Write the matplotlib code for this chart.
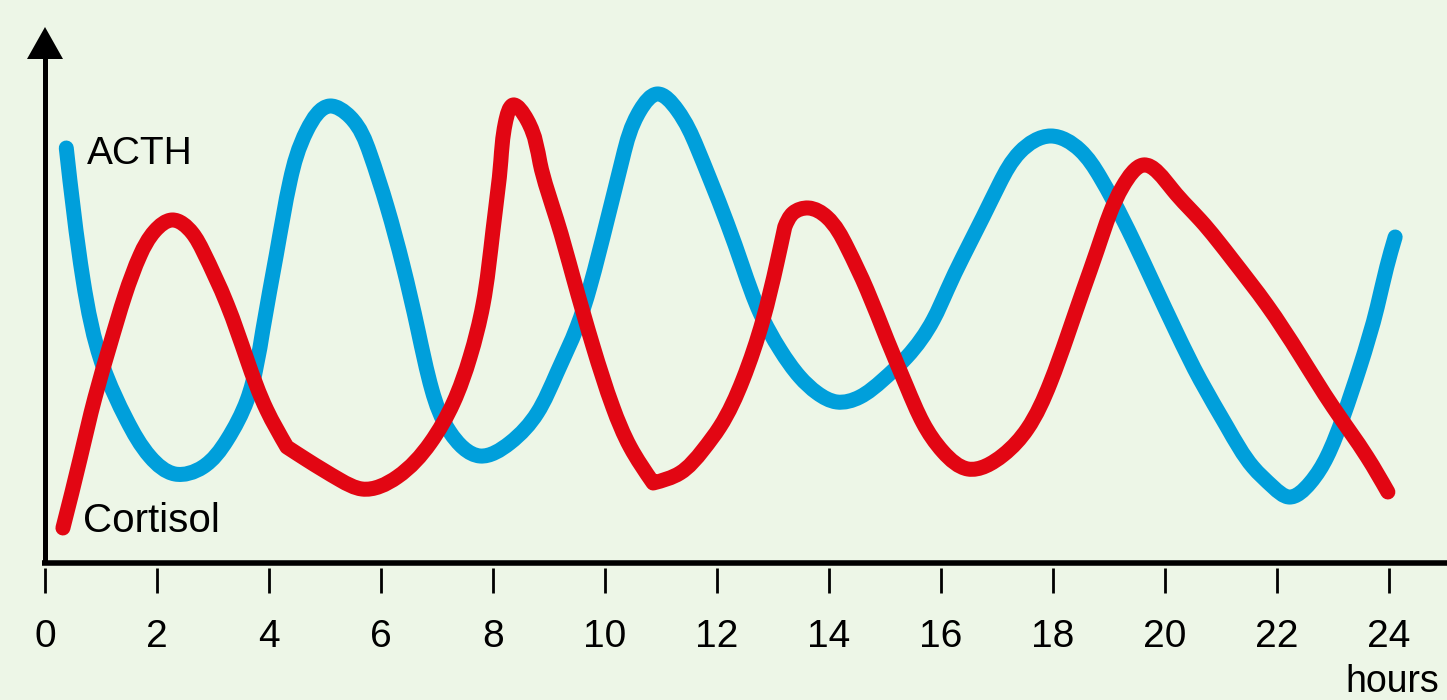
import matplotlib
matplotlib.use("Agg")
import math
import matplotlib.pyplot as plt
from matplotlib.patches import Polygon, PathPatch
from matplotlib.path import Path

# ---- data (hours, arbitrary level units) ----
acth_h = [0.38, 0.68, 1.04, 1.46, 1.88, 2.32, 2.82, 3.25, 3.61, 3.89, 4.13,
          4.38, 4.68, 5.09, 5.45, 5.80, 6.11, 6.39, 6.66, 6.91, 7.23, 7.77, 8.30,
          8.79, 9.14, 9.5, 9.73, 10.04, 10.32, 10.63, 10.93, 11.29, 11.64, 11.88, 12.18,
          12.46, 12.77, 13.13, 13.48, 13.79, 14.14, 14.55, 14.96, 15.39, 15.86, 16.11,
          16.39, 16.75, 17.05, 17.41, 17.96, 18.48, 18.84, 19.07, 19.43, 19.79, 20.21,
          20.63, 21.11, 21.57, 21.93, 22.21, 22.59, 22.89, 23.18, 23.48, 23.79, 23.96,
          24.11]
acth_v = [83.0, 56.6, 39.2, 28.6, 21.2, 17.8, 19.2, 24.6, 32.6, 46.6, 61.6,
          76.6, 86.6, 91.4, 89.2, 82.0, 71.2, 59.6, 46.6, 34.6, 26.2, 21.4, 24.0,
          30.0, 38.0, 47.2, 55.2, 68.6, 81.2, 90.6, 93.8, 90.6, 83.2, 76.6, 68.0,
          59.2, 50.0, 42.6, 37.2, 34.0, 32.2, 33.2, 36.6, 41.2, 48.6, 54.6,
          61.2, 69.2, 76.0, 82.2, 85.4, 82.6, 77.2, 72.6, 64.6, 56.0, 46.0,
          36.6, 27.2, 19.2, 15.2, 13.2, 16.0, 21.2, 29.2, 39.2, 51.2, 59.2,
          65.2]

cort_h = [0.32, 0.63, 0.89, 1.16, 1.43, 1.70, 1.96, 2.27, 2.63, 2.82, 3.25, 3.61, 3.96,
          4.32, 4.68, 5.27, 5.66, 6.29, 6.88, 7.29, 7.59, 7.82, 8.0, 8.14, 8.22, 8.36,
          8.61, 8.84, 9.14, 9.43, 9.79, 10.14, 10.45, 10.86, 11.34, 11.75, 12.05, 12.46,
          12.82, 13.07, 13.21, 13.36, 13.63, 13.96, 14.32, 14.68, 15.04, 15.39, 15.68,
          16.04, 16.48, 17.11, 17.54, 17.95, 18.25, 18.54, 18.79, 19.02, 19.25, 19.61,
          20.14, 20.63, 21.21, 21.82, 22.41, 23.0, 23.61, 23.98]
cort_v = [7.0, 21.0, 33.0, 43.6, 53.6, 61.6, 66.4, 68.6, 66.0, 62.4, 51.8, 40.6, 30.6,
          23.2, 20.6, 16.6, 14.8, 17.2, 24.0, 32.0, 41.2, 51.6, 66.6, 80.4, 88.0, 91.6,
          88.6, 80.0, 68.6, 57.2, 43.2, 31.2, 23.2, 16.0, 18.0, 22.6, 27.2, 36.6,
          48.6, 60.0, 67.2, 70.0, 71.0, 69.2, 63.2, 54.6, 44.6, 35.2, 28.0,
          22.2, 18.8, 21.6, 26.8, 36.0, 45.2, 54.6, 62.6, 70.0, 75.4, 79.6,
          74.6, 68.6, 60.6, 51.6, 41.6, 31.2, 21.2, 14.2]
# hours at which the cortisol trace has a visible corner
cort_corners = [4.32, 10.86, 13.21]

tick_hours = list(range(0, 25, 2))
tick_labels = [str(t) for t in tick_hours]

BG = "#EDF6E7"
BLUE = "#009FDB"
RED = "#E20613"
FONT = ["Liberation Sans", "DejaVu Sans"]

# on-screen scale (pixels per unit), used for the chord-length parameterisation
SX, SY = 56.0, 5.0


def _second_derivs(t, y):
    n = len(t)
    h = [t[i + 1] - t[i] for i in range(n - 1)]
    a = [0.0] * n
    b = [1.0] * n
    c = [0.0] * n
    d = [0.0] * n
    for i in range(1, n - 1):
        a[i] = h[i - 1]
        b[i] = 2 * (h[i - 1] + h[i])
        c[i] = h[i]
        d[i] = 6 * ((y[i + 1] - y[i]) / h[i] - (y[i] - y[i - 1]) / h[i - 1])
    cp = [0.0] * n
    dp = [0.0] * n
    cp[0] = c[0] / b[0]
    dp[0] = d[0] / b[0]
    for i in range(1, n):
        m = b[i] - a[i] * cp[i - 1]
        cp[i] = c[i] / m
        dp[i] = (d[i] - a[i] * dp[i - 1]) / m
    M = [0.0] * n
    M[-1] = dp[-1]
    for i in range(n - 2, -1, -1):
        M[i] = dp[i] - cp[i] * M[i + 1]
    return M


def spline_piece(xs, ys):
    """Bezier control points of a parametric natural cubic spline through points."""
    n = len(xs)
    t = [0.0]
    for i in range(1, n):
        t.append(t[-1] + max(math.hypot((xs[i] - xs[i - 1]) * SX,
                                        (ys[i] - ys[i - 1]) * SY), 1e-6))
    Mx = _second_derivs(t, xs)
    My = _second_derivs(t, ys)
    verts = []
    for i in range(n - 1):
        h = t[i + 1] - t[i]
        d0x = (xs[i + 1] - xs[i]) / h - h * (2 * Mx[i] + Mx[i + 1]) / 6
        d1x = (xs[i + 1] - xs[i]) / h + h * (Mx[i] + 2 * Mx[i + 1]) / 6
        d0y = (ys[i + 1] - ys[i]) / h - h * (2 * My[i] + My[i + 1]) / 6
        d1y = (ys[i + 1] - ys[i]) / h + h * (My[i] + 2 * My[i + 1]) / 6
        verts += [(xs[i] + d0x * h / 3, ys[i] + d0y * h / 3),
                  (xs[i + 1] - d1x * h / 3, ys[i + 1] - d1y * h / 3),
                  (xs[i + 1], ys[i + 1])]
    return verts


def smooth_path(xs, ys, corners=()):
    idx = [0] + [xs.index(c) for c in corners] + [len(xs) - 1]
    verts = [(xs[0], ys[0])]
    codes = [Path.MOVETO]
    for a, b in zip(idx[:-1], idx[1:]):
        v = spline_piece(xs[a:b + 1], ys[a:b + 1])
        verts += v
        codes += [Path.CURVE4] * len(v)
    return Path(verts, codes)


fig = plt.figure(figsize=(14.47, 7.00), dpi=100, facecolor=BG)
ax = fig.add_axes([0, 0, 1, 1])
ax.set_facecolor(BG)
ax.set_xlim(-45 / 56, 1402 / 56)
ax.set_ylim(-27.4, 112.6)
ax.axis("off")

# curves
for xs, ys, cr, col, z, lab in [(acth_h, acth_v, (), BLUE, 3, "ACTH"),
                                (cort_h, cort_v, cort_corners, RED, 4, "Cortisol")]:
    patch = PathPatch(smooth_path(xs, ys, cr), facecolor="none", edgecolor=col, lw=10.8,
                      capstyle="round", joinstyle="round", zorder=z, label=lab)
    ax.add_patch(patch)

# axes lines with arrows
ax.plot([-3 / 56, 1434 / 56], [0, 0], color="black", lw=4.0, solid_capstyle="butt", zorder=5)
ax.plot([0, 0], [0, 101], color="black", lw=3.6, solid_capstyle="butt", zorder=5)
ax.add_patch(Polygon([(-18 / 56, 100.8), (18 / 56, 100.8), (0, 107.2)], closed=True,
                     color="black", zorder=6, lw=0))
ax.add_patch(Polygon([(1432 / 56, 3.9), (1432 / 56, -3.9), (1468 / 56, 0)], closed=True,
                     color="black", zorder=6, lw=0, clip_on=False))

# ticks & labels
for tk, lab in zip(tick_hours, tick_labels):
    ax.plot([tk, tk], [-1.0, -6.0], color="black", lw=2.0, solid_capstyle="butt")
    ax.text(tk, -14.8, lab, ha="center", va="center", fontsize=28, family=FONT)

ax.text(1392 / 56 - 45 / 56, -23.8, "hours", ha="center", va="center", fontsize=27,
        family=FONT)
ax.text(87 / 56 - 45 / 56, (563 - 154) / 5, "ACTH", ha="left", va="center",
        fontsize=28, family=FONT)
ax.text(83 / 56 - 45 / 56, (563 - 521) / 5, "Cortisol", ha="left", va="center",
        fontsize=29, family=FONT)

fig.savefig("out.png", dpi=100, facecolor=BG)
